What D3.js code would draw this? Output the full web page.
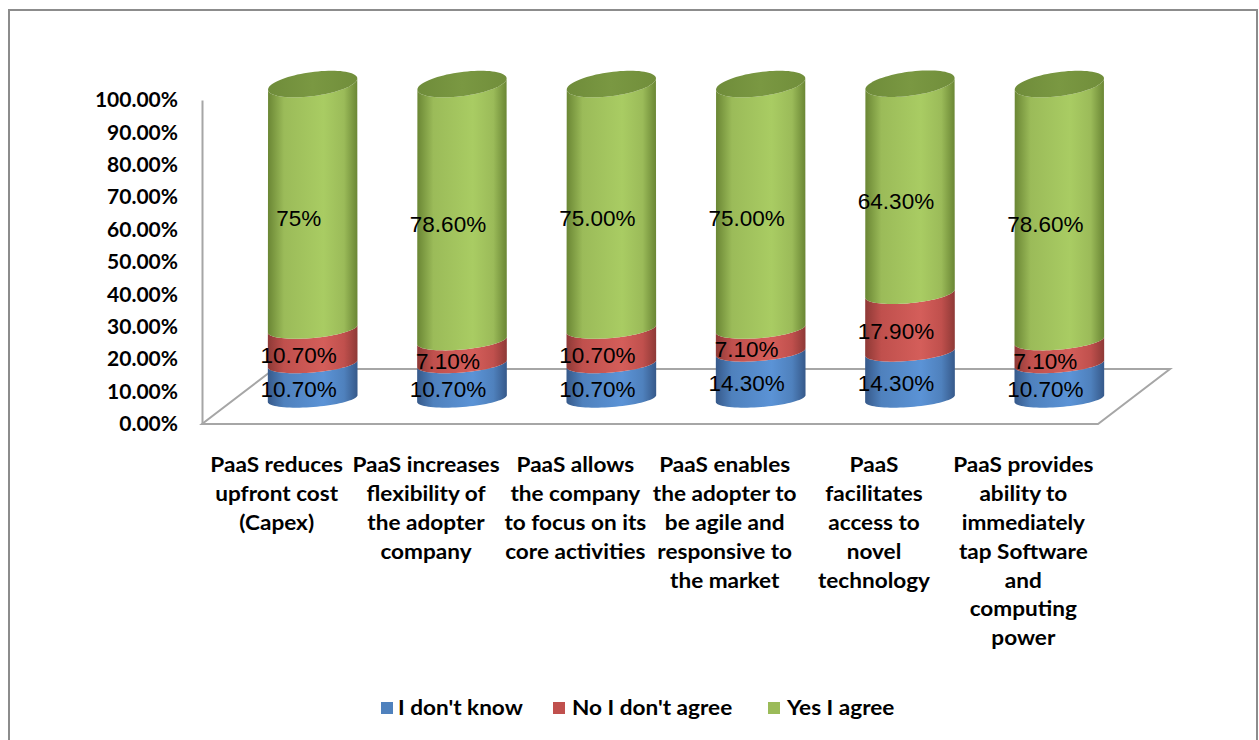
<!DOCTYPE html>
<html>
<head>
<meta charset="utf-8">
<script src="https://cdn.jsdelivr.net/npm/d3@7"></script>
<style>
  html, body { margin: 0; padding: 0; background: #fff; }
  svg { display: block; }
</style>
</head>
<body>
<svg id="chart" width="1259" height="740"></svg>
<script>
// ---- data ----
const categories = [
  "PaaS reduces upfront cost (Capex)",
  "PaaS increases flexibility of the adopter company",
  "PaaS allows the company to focus on its core activities",
  "PaaS enables the adopter to be agile and responsive to the market",
  "PaaS facilitates access to novel technology",
  "PaaS provides ability to immediately tap Software and computing power"
];
const categoryLines = [
  ["PaaS reduces", "upfront cost", "(Capex)"],
  ["PaaS increases", "flexibility of", "the adopter", "company"],
  ["PaaS allows", "the company", "to focus on its", "core activities"],
  ["PaaS enables", "the adopter to", "be agile and", "responsive to", "the market"],
  ["PaaS", "facilitates", "access to", "novel", "technology"],
  ["PaaS provides", "ability to", "immediately", "tap Software", "and", "computing", "power"]
];
const seriesNames = ["I don't know", "No I don't agree", "Yes I agree"];
const dontKnow = [10.7, 10.7, 10.7, 14.3, 14.3, 10.7];
const disagree = [10.7, 7.1, 10.7, 7.1, 17.9, 7.1];
const agree    = [75.0, 78.6, 75.0, 75.0, 64.3, 78.6];
const agreeLabels = ["75%", "78.60%", "75.00%", "75.00%", "64.30%", "78.60%"];
const tickValues = [0, 10, 20, 30, 40, 50, 60, 70, 80, 90, 100];

// ---- styling ----
const palette = [
  { base: "#4f81bd", dark: "#36598a", light: "#5b93d6" },
  { base: "#c0504d", dark: "#8e3936", light: "#d45e5a" },
  { base: "#9bbb59", dark: "#6a8634", light: "#a9cc63" }
];
const capColor = "#7a9842";
const lineColor = "#a6a6a6";
const wide = 1.13; // horizontal stretch of the bold label font

const svg = d3.select("#chart");
const defs = svg.append("defs");

palette.forEach((c, i) => {
  const g = defs.append("linearGradient")
    .attr("id", "cyl" + i)
    .attr("x1", 0).attr("x2", 1).attr("y1", 0).attr("y2", 0);
  [[0, c.dark], [0.18, c.base], [0.62, c.light], [0.85, c.base], [1, c.dark]]
    .forEach(([o, col]) => g.append("stop").attr("offset", o).attr("stop-color", col));
});
const capGrad = defs.append("linearGradient")
  .attr("id", "cap").attr("x1", 0).attr("x2", 1).attr("y1", 0).attr("y2", 0);
[[0, "#6f8c3a"], [0.5, capColor], [1, "#718e3b"]]
  .forEach(([o, col]) => capGrad.append("stop").attr("offset", o).attr("stop-color", col));

// outer frame
svg.append("rect")
  .attr("x", 9).attr("y", 10).attr("width", 1248).attr("height", 760)
  .attr("fill", "#fff").attr("stroke", "#8c8c8c").attr("stroke-width", 2);

// ---- scales ----
const x = d3.scaleBand().domain(categories).range([202, 1098]).padding(0);
const y = d3.scaleLinear().domain([0, 100]).range([424, 100]);
// cylinder centre line sits halfway back on the floor
const depth = { dx: 72, dy: -55 };
const yC = d3.scaleLinear().domain([0, 100]).range([424 + depth.dy / 2 + 2, 424 + depth.dy / 2 + 2 - 326.2]);
const ryScale = d3.scaleLinear().domain([0, 100]).range([8.5, 12.1]);
const tiltScale = d3.scaleLinear().domain([0, 100]).range([-4.5, -7.8]);
const rx = 45;

function ellipsePoint(cx, v, t) {
  const cy = yC(v), ry = ryScale(v), th = tiltScale(v) * Math.PI / 180;
  return [
    cx + rx * Math.cos(t) * Math.cos(th) - ry * Math.sin(t) * Math.sin(th),
    cy + rx * Math.cos(t) * Math.sin(th) + ry * Math.sin(t) * Math.cos(th)
  ];
}
function frontArc(cx, v, from, to, n = 40) {
  return d3.range(n + 1).map(k => ellipsePoint(cx, v, from + (to - from) * k / n));
}
const line = d3.line();

// ---- floor ----
const x0 = x.range()[0], x1 = x.range()[1], yf = y(0);
svg.append("path")
  .attr("d", line([[x0, yf], [x1, yf], [x1 + depth.dx, yf + depth.dy], [x0 + depth.dx, yf + depth.dy]]) + "Z")
  .attr("fill", "none").attr("stroke", lineColor).attr("stroke-width", 2);

// ---- value axis ----
const axis = svg.append("g")
  .attr("transform", `translate(${x0},0)`)
  .call(d3.axisLeft(y).tickValues(tickValues).tickFormat(d => d.toFixed(2) + "%").tickSize(0).tickPadding(24));
axis.select(".domain").attr("stroke", lineColor).attr("stroke-width", 2);
axis.selectAll("text")
  .attr("font-family", "Lato, sans-serif").attr("font-weight", "bold")
  .attr("font-size", 21).attr("fill", "#000");

// ---- cylinders ----
const stacks = categories.map((c, i) => {
  const vals = [dontKnow[i], disagree[i], agree[i]];
  let acc = 0;
  return vals.map((v, s) => { const seg = { s, v0: acc, v1: acc + v, i }; acc += v; return seg; });
});

const bars = svg.append("g");
stacks.forEach((segs, i) => {
  const cx = x(categories[i]) + x.bandwidth() / 2 + depth.dx / 2;
  const g = bars.append("g");
  segs.forEach(seg => {
    const pts = frontArc(cx, seg.v0, 0, Math.PI).concat(frontArc(cx, seg.v1, Math.PI, 0));
    g.append("path").attr("d", line(pts) + "Z").attr("fill", `url(#cyl${seg.s})`);
  });
  const top = segs[segs.length - 1].v1;
  const cap = frontArc(cx, top, 0, 2 * Math.PI, 80);
  g.append("path").attr("d", line(cap) + "Z").attr("fill", "url(#cap)");
});

// ---- data labels ----
const labels = svg.append("g")
  .attr("font-family", "'Liberation Sans', Arial, sans-serif")
  .attr("font-size", 22.5).attr("fill", "#000");
stacks.forEach((segs, i) => {
  const cx = x(categories[i]) + x.bandwidth() / 2 + depth.dx / 2;
  segs.forEach(seg => {
    const yb = yC(seg.v0) + ryScale(seg.v0);
    const yt = yC(seg.v1) + ryScale(seg.v1);
    const txt = seg.s === 2 ? agreeLabels[i] : (seg.v1 - seg.v0).toFixed(2) + "%";
    labels.append("text")
      .attr("x", cx - 14).attr("y", (yb + yt) / 2 + (seg.s === 2 ? 2 : 0))
      .attr("text-anchor", "middle").attr("dominant-baseline", "central")
      .text(txt);
  });
});

// ---- category labels ----
const cat = svg.append("g")
  .attr("font-family", "Lato, sans-serif").attr("font-weight", "bold")
  .attr("font-size", 20).attr("fill", "#000").attr("text-anchor", "middle");
categoryLines.forEach((lines, i) => {
  const t = cat.append("text")
    .attr("transform", `translate(${x(categories[i]) + x.bandwidth() / 2},0) scale(${wide},1)`);
  lines.forEach((l, k) => {
    t.append("tspan").attr("x", 0)
      .attr("y", 465 + k * 28.8).attr("dominant-baseline", "central").text(l);
  });
});

// ---- legend ----
const legend = svg.append("g")
  .attr("font-family", "Lato, sans-serif").attr("font-weight", "bold")
  .attr("font-size", 20).attr("fill", "#000");
const legendX = [381, 553, 768];
seriesNames.forEach((name, s) => {
  legend.append("rect").attr("x", legendX[s]).attr("y", 702).attr("width", 12).attr("height", 12)
    .attr("fill", palette[s].base);
  legend.append("text")
    .attr("transform", `translate(${legendX[s] + 17 + (s === 0 ? 0 : 2)},708) scale(${wide},1)`)
    .attr("dominant-baseline", "central").text(name);
});
</script>
</body>
</html>
